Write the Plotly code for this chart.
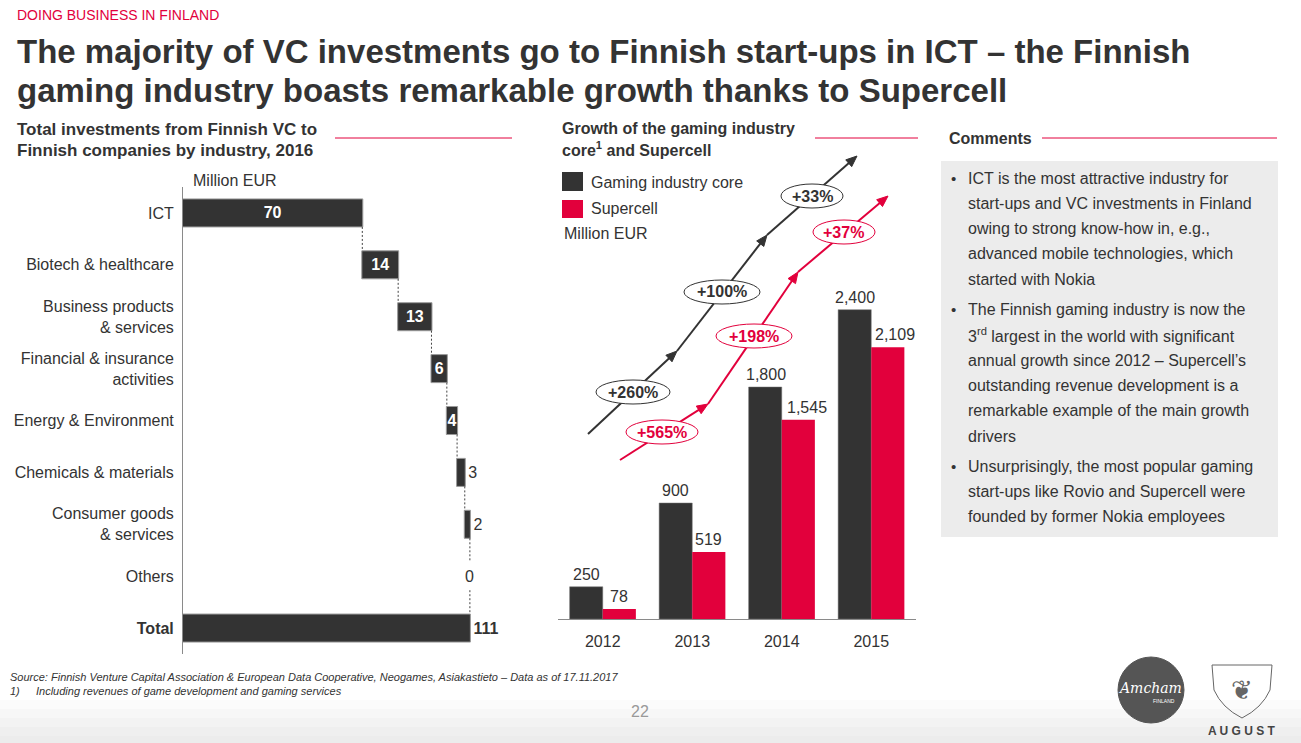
import math
import plotly.graph_objects as go

W, H = 1301, 743
def px(x): return x / W
def py(y): return 1 - y / H

DARK = "#333333"
RED = "#e2003c"
FONT = "Liberation Sans, Arial, sans-serif"

# ---------------- Data ----------------
industries = ["ICT", "Biotech & healthcare", "Business products<br>& services",
              "Financial & insurance<br>activities", "Energy & Environment",
              "Chemicals & materials", "Consumer goods<br>& services", "Others", "<b>Total</b>"]
investments = [70, 14, 13, 6, 4, 3, 2, 0]
total_investment = 111

years = ["2012", "2013", "2014", "2015"]
gaming_core = [250, 900, 1800, 2400]
supercell = [78, 519, 1545, 2109]

comments = [
    ["ICT is the most attractive industry for",
     "start-ups and VC investments in Finland",
     "owing to strong know-how in, e.g.,",
     "advanced mobile technologies, which",
     "started with Nokia"],
    ["The Finnish gaming industry is now the",
     "3<sup>rd</sup> largest in the world with significant",
     "annual growth since 2012 – Supercell’s",
     "outstanding revenue development is a",
     "remarkable example of the main growth",
     "drivers"],
    ["Unsurprisingly, the most popular gaming",
     "start-ups like Rovio and Supercell were",
     "founded by former Nokia employees"],
]

fig = go.Figure()
shapes = []
ann = []

# ---------------- Waterfall ----------------
wf_x = investments + [total_investment]
wf_text = [str(v) if v > 0 else "" for v in investments] + [f"<b>{total_investment}</b>"]
wf_pos = ["inside"] * 5 + ["outside"] * 4
fig.add_trace(go.Waterfall(
    orientation="h", y=industries, x=wf_x,
    measure=["relative"] * len(investments) + ["total"],
    text=wf_text, textposition=wf_pos, constraintext="none", insidetextanchor="middle",
    insidetextfont=dict(color="white", size=16, family=FONT, weight="bold"),
    outsidetextfont=dict(color=DARK, size=16, family=FONT),
    increasing=dict(marker=dict(color=DARK, line=dict(color="#9a9a9a", width=1))),
    totals=dict(marker=dict(color=DARK, line=dict(color="#9a9a9a", width=1))),
    connector=dict(line=dict(color="#444", width=1, dash="2px,2px")),
    xaxis="x", yaxis="y", cliponaxis=False, showlegend=False,
))
# label for zero-valued step, centred at the running total
cum = 0
for cat, v in zip(industries, investments):
    cum += v
    if v == 0:
        ann.append(dict(x=cum, y=cat, xref="x", yref="y", text=str(v), showarrow=False,
                        bgcolor="white", font=dict(size=16, color=DARK, family=FONT)))

# ---------------- Grouped bars ----------------
fig.add_trace(go.Bar(x=years, y=gaming_core, marker=dict(color=DARK, line=dict(color="#777", width=0.5)),
                     xaxis="x2", yaxis="y2", cliponaxis=False, showlegend=False))
fig.add_trace(go.Bar(x=years, y=supercell, marker=dict(color=RED, line=dict(width=0)),
                     xaxis="x2", yaxis="y2", cliponaxis=False, showlegend=False))
half = 16.5
core_shift = [0, 0, 1, 0]
cell_shift = [0, 0, 9, 7]
for i, yr in enumerate(years):
    ann.append(dict(x=i, y=gaming_core[i], xref="x2", yref="y2", text=f"{gaming_core[i]:,}",
                    showarrow=False, yanchor="bottom", xshift=-half + core_shift[i], yshift=2,
                    font=dict(size=16, color=DARK, family=FONT)))
    ann.append(dict(x=i, y=supercell[i], xref="x2", yref="y2", text=f"{supercell[i]:,}",
                    showarrow=False, yanchor="bottom", xshift=half + cell_shift[i], yshift=2,
                    font=dict(size=16, color=DARK, family=FONT)))


def text(x, y, s, size=16, color=DARK, bold=False, italic=False, xanchor="left", yanchor="middle", family=FONT):
    ann.append(dict(x=px(x), y=py(y), xref="paper", yref="paper", text=s, showarrow=False,
                    xanchor=xanchor, yanchor=yanchor,
                    font=dict(size=size, color=color, family=family,
                              weight="bold" if bold else "normal",
                              style="italic" if italic else "normal")))

def line(x0, y0, x1, y1, color=RED, width=1):
    shapes.append(dict(type="line", xref="paper", yref="paper", x0=px(x0), y0=py(y0),
                       x1=px(x1), y1=py(y1), line=dict(color=color, width=width)))

def rect(x0, y0, x1, y1, fill, lw=0, lc=None):
    shapes.append(dict(type="rect", xref="paper", yref="paper", x0=px(x0), y0=py(y0),
                       x1=px(x1), y1=py(y1), fillcolor=fill,
                       line=dict(width=lw, color=lc or fill), layer="below"))

# bottom gradient band
for i, c in enumerate(["#fbfbfb", "#f7f7f7", "#f3f3f3", "#efefef", "#ececec"]):
    rect(0, 700 + i * 9, W, 743, c)

# comments box
rect(941, 161, 1278, 537, "#ececec")

# headers
text(15, 15, "DOING BUSINESS IN FINLAND", size=14, color=RED)
text(15, 52, "The majority of VC investments go to Finnish start-ups in ICT – the Finnish", size=33, bold=True)
text(15, 91, "gaming industry boasts remarkable growth thanks to Supercell", size=33, bold=True)

text(15, 129, "Total investments from Finnish VC to", size=17, bold=True)
text(15, 150, "Finnish companies by industry, 2016", size=17, bold=True)
line(335, 138, 512, 138)
text(560, 128, "Growth of the gaming industry", size=16, bold=True)
text(560, 149, "core<sup>1</sup> and Supercell", size=16, bold=True)
line(815, 138, 918, 138)
text(947, 138, "Comments", size=16, bold=True)
line(1042, 138, 1277, 138)

text(191, 180, "Million EUR", size=16)

# legend
rect(562, 172, 583, 191, DARK)
rect(562, 200, 583, 218, RED)
text(589, 182, "Gaming industry core", size=16)
text(589, 209, "Supercell", size=16)
text(562, 234, "Million EUR", size=16)

# growth arrows
def pct(a, b):
    return f"<b>+{round((b / a - 1) * 100)}%</b>"

def arrow(tail, head, color):
    dx, dy = head[0] - tail[0], head[1] - tail[1]
    L = math.hypot(dx, dy)
    ux, uy = dx / L, dy / L
    nx, ny = -uy, ux
    hl, hw = 11, 4.5
    bx, by = head[0] - hl * ux, head[1] - hl * uy
    shapes.append(dict(type="line", xref="paper", yref="paper",
                       x0=px(tail[0]), y0=py(tail[1]), x1=px(bx + ux), y1=py(by + uy),
                       line=dict(color=color, width=2)))
    pts = [(head[0], head[1]), (bx + hw * nx, by + hw * ny), (bx - hw * nx, by - hw * ny)]
    path = "M " + " L ".join(f"{px(a)} {py(b)}" for a, b in pts) + " Z"
    shapes.append(dict(type="path", xref="paper", yref="paper", path=path,
                       fillcolor=color, line=dict(color=color, width=1)))

dark_path = [(588, 434), (677, 351), (767, 235), (857, 156)]
red_path = [(620, 460), (708, 404), (798, 272), (888, 196)]
for i in range(3):
    arrow(dark_path[i], dark_path[i + 1], DARK)
    arrow(red_path[i], red_path[i + 1], RED)

def bubble(cx, cy, w, s, color):
    shapes.append(dict(type="circle", xref="paper", yref="paper",
                       x0=px(cx - w / 2), x1=px(cx + w / 2), y0=py(cy + 12), y1=py(cy - 12),
                       fillcolor="white", line=dict(color=color, width=1)))
    text(cx, cy, s, size=16, color=color, xanchor="center")

dark_lbl = [(633, 392, 74), (722, 292, 76), (812, 196, 62)]
red_lbl = [(662, 432, 72), (754, 336, 76), (844, 232, 62)]
for i in range(3):
    bubble(*dark_lbl[i][:2], dark_lbl[i][2], pct(gaming_core[i], gaming_core[i + 1]), DARK)
    bubble(*red_lbl[i][:2], red_lbl[i][2], pct(supercell[i], supercell[i + 1]), RED)

# comments
y = 178
for bi, bullet in enumerate(comments):
    text(949, y, "•", size=15)
    for ln in bullet:
        text(966, y, ln, size=16)
        y += 25.3
    y += 5

# footer
text(8, 677, "Source: Finnish Venture Capital Association & European Data Cooperative, Neogames, Asiakastieto – Data as of 17.11.2017",
     size=11, italic=True)
text(8, 691, "1)", size=11, italic=True)
text(34, 691, "Including revenues of game development and gaming services", size=11, italic=True)
text(640, 711, "22", size=16, color="#999999", xanchor="center")

# logos
shapes.append(dict(type="circle", xref="paper", yref="paper", x0=px(1118), x1=px(1184),
                   y0=py(723), y1=py(657), fillcolor="#555555", line=dict(color="#555555", width=1)))
text(1150, 688, "<i>Amcham</i>", size=14, color="white", xanchor="center", family="DejaVu Serif")
text(1164, 701, "FINLAND", size=5, color="white", xanchor="center")
shapes.append(dict(type="path", xref="paper", yref="paper",
                   path=f"M {px(1212)} {py(665)} L {px(1272)} {py(665)} L {px(1270)} {py(690)} "
                        f"Q {px(1262)} {py(708)} {px(1242)} {py(718)} Q {px(1222)} {py(708)} {px(1214)} {py(690)} Z",
                   line=dict(color="#666", width=1), fillcolor="rgba(0,0,0,0)"))
text(1242, 690, "❦", size=26, color="#666", xanchor="center", family="DejaVu Sans")
text(1242, 731, "A U G U S T", size=12, color="#444", bold=True, xanchor="center")

fig.update_layout(
    width=W, height=H, margin=dict(l=0, r=0, t=0, b=0),
    paper_bgcolor="white", plot_bgcolor="rgba(0,0,0,0)",
    font=dict(family=FONT, color=DARK, size=16),
    waterfallgap=0.46, bargap=0.26, bargroupgap=0, barmode="group",
    xaxis=dict(domain=[px(183), px(516)], range=[0, 130], visible=False, fixedrange=True),
    yaxis=dict(domain=[py(654), py(187)], autorange="reversed", showline=True,
               linecolor="#8a8a8a", linewidth=1, showgrid=False, zeroline=False,
               ticks="", ticklabelstandoff=5, tickfont=dict(size=16, color=DARK)),
    xaxis2=dict(domain=[px(558), px(916)], type="category", range=[-0.5, len(years) - 0.5],
                showline=True, linecolor="#8a8a8a", linewidth=1,
                showgrid=False, ticks="", tickfont=dict(size=16, color=DARK), anchor="y2",
                ticklabelstandoff=8),
    yaxis2=dict(domain=[py(619), py(271)], range=[0, 2700], visible=False, anchor="x2"),
    shapes=shapes, annotations=ann,
)

fig.write_html("out.html", config={"displayModeBar": False},
               post_script="document.body.style.margin='0px';")
